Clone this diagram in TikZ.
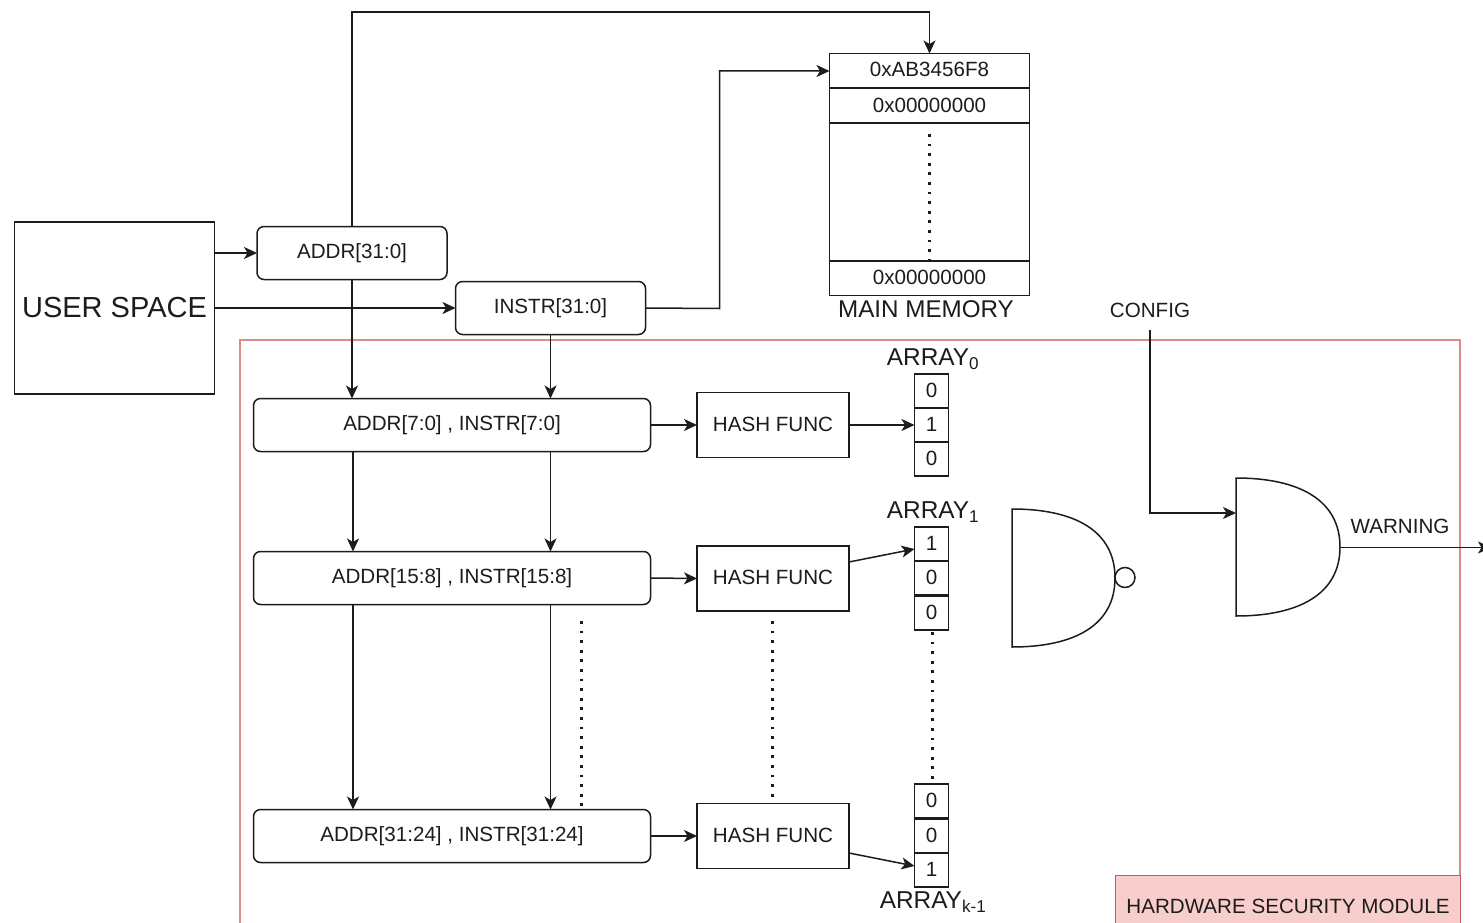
\documentclass[tikz,border=0pt]{standalone}
\usepackage{fontspec}
\setmainfont{Liberation Sans}
\usetikzlibrary{arrows.meta}
\definecolor{ink}{HTML}{1C1C1C}
\definecolor{hsmline}{HTML}{DE8A88}
\definecolor{hsmedge}{HTML}{C0605C}
\definecolor{hsmfill}{HTML}{F8CECC}
\newcommand\shiftup[2]{\raisebox{#1}{#2}}
\tikzset{
 x=1pt,y=-1pt,
 every node/.style={inner sep=0pt,outer sep=0pt},
 wire/.style={draw=ink,line width=1.5pt,-{Stealth[length=13pt,width=12pt,inset=3.5pt]}},
 plain/.style={draw=ink,line width=1.5pt},
 box/.style={draw=ink,line width=1.5pt,font=\fontsize{20.6}{24}\selectfont,text=ink,anchor=center},
 rbox/.style={box,rounded corners=7pt},
 cell/.style={box,minimum width=34pt,minimum height=34pt},
 mem/.style={box,minimum width=200pt,minimum height=35pt},
 lbl/.style={font=\fontsize{20.6}{24}\selectfont,text=ink},
 arr/.style={font=\fontsize{24.4}{28}\selectfont,text=ink},
 dots/.style={draw=ink,line width=2.8pt,dash pattern=on 2.8pt off 6.8pt},
}
\begin{document}
\begin{tikzpicture}
\useasboundingbox (0,0) rectangle (1483,923);
\fill[white] (0,0) rectangle (1483,923);
% HSM
\draw[draw=hsmline,line width=1.1pt] (240,923) -- (240,340) -- (1460,340) -- (1460,923);
\node[draw=hsmedge,fill=hsmfill,line width=1.1pt,minimum width=345pt,minimum height=52pt,anchor=north west] (hsm) at (1115.5,875.5) {};
\node[lbl] (hsmt) at (1288,906.5) {HARDWARE SECURITY MODULE};
% user
\node[box,minimum width=200pt,minimum height=172pt,font=\fontsize{29}{34}\selectfont] (user) at (114.5,308) {\shiftup{-1pt}{USER SPACE}};
\node[rbox,minimum width=190pt,minimum height=53pt] (addr) at (352,253) {\shiftup{-1pt}{ADDR[31:0]}};
\node[rbox,minimum width=190pt,minimum height=53pt] (instr) at (550.5,308) {\shiftup{-1pt}{INSTR[31:0]}};
% memory
\node[mem] (m0) at (929.5,71) {\shiftup{2.5pt}{0xAB3456F8}};
\node[mem] (m1) at (929.5,105.5) {\shiftup{1pt}{0x00000000}};
\node[box,minimum width=200pt,minimum height=138pt] (mm) at (929.5,192) {};
\node[mem] (m2) at (929.5,278) {\shiftup{1.5pt}{0x00000000}};
\node[lbl,font=\fontsize{24.2}{28}\selectfont] (mmt) at (926,309) {MAIN MEMORY};
% rows
\node[rbox,minimum width=397pt,minimum height=53pt] (r0) at (452,425) {\shiftup{-1pt}{ADDR[7:0] , INSTR[7:0]}};
\node[rbox,minimum width=397pt,minimum height=53pt] (r1) at (452,578) {\shiftup{-1pt}{ADDR[15:8] , INSTR[15:8]}};
\node[rbox,minimum width=397pt,minimum height=53pt] (r2) at (452,836) {\shiftup{1.5pt}{ADDR[31:24] , INSTR[31:24]}};
\node[box,minimum width=152pt,minimum height=65pt] (h0) at (773,425) {\shiftup{2pt}{HASH FUNC}};
\node[box,minimum width=152pt,minimum height=65pt] (h1) at (773,578.5) {\shiftup{2pt}{HASH FUNC}};
\node[box,minimum width=152pt,minimum height=65pt] (h2) at (773,836) {\shiftup{2pt}{HASH FUNC}};
% arrays
\node[cell] (a00) at (931.5,391) {\shiftup{1pt}{0}};
\node[cell] (a01) at (931.5,425) {\shiftup{1pt}{1}};
\node[cell] (a02) at (931.5,459) {\shiftup{1pt}{0}};
\node[cell] (a10) at (931.5,544) {\shiftup{1pt}{1}};
\node[cell] (a11) at (931.5,578) {\shiftup{1pt}{0}};
\node[cell] (a12) at (931.5,613) {\shiftup{1pt}{0}};
\node[cell] (a20) at (931.5,801) {\shiftup{1pt}{0}};
\node[cell] (a21) at (931.5,836) {\shiftup{1pt}{0}};
\node[cell] (a22) at (931.5,870) {\shiftup{1pt}{1}};
\node[arr] (t0) at (933,359) {ARRAY\textsubscript{0}};
\node[arr] (t1) at (933,512) {ARRAY\textsubscript{1}};
\node[arr] (t2) at (933,902) {ARRAY\textsubscript{k-1}};
% gates
\draw[plain] (1012,509) -- (1012,647) .. controls (1075,647) and (1115,625) .. (1115,578) .. controls (1115,531) and (1075,509) .. (1012,509) -- cycle;
\node[draw=ink,line width=1.5pt,circle,minimum size=20pt] (bub) at (1125,577.5) {};
\draw[plain] (1236,478) -- (1236,616) .. controls (1299,616) and (1340,594) .. (1340,547) .. controls (1340,500) and (1299,478) .. (1236,478) -- cycle;
\coordinate (and) at (1236,513);
\coordinate (andout) at (1340,547.5);
\coordinate (wend) at (1491,547.5);
\coordinate (cfgstart) at (1150,330);
\node[lbl] (cfg) at (1150,310) {CONFIG};
\node[lbl] (warn) at (1400,526) {WARNING};
% connectors
\draw[wire] (user.east |- addr) -- (addr.west);
\draw[wire] (user.east |- instr) -- (instr.west);
\draw[wire] (addr.north) -- (352,12) -| (m0.north);
\draw[wire] (instr.east) -- (719.5,308.5) |- (m0.west);
\draw[wire] (addr.south) -- (r0.north -| addr.south);
\draw[wire] (instr.south) -- (r0.north -| instr.south);
\draw[wire] (r0.south -| 353,0) -- (r1.north -| 353,0);
\draw[wire] (r0.south -| instr.south) -- (r1.north -| instr.south);
\draw[wire] (r1.south -| 353,0) -- (r2.north -| 353,0);
\draw[wire] (r1.south -| instr.south) -- (r2.north -| instr.south);
\draw[wire] (r0.east) -- (h0.west);
\draw[wire] (r1.east) -- (h1.west);
\draw[wire] (r2.east) -- (h2.west);
\draw[wire] (h0.east) -- (a01.west);
\draw[wire] (h1.east |- 0,562) -- (a10.west |- 0,549);
\draw[wire] (h2.east |- 0,853) -- (a22.west |- 0,866);
\draw[wire] (cfgstart) -- (1150,513) -- (and);
\draw[wire] (andout) -- (wend);
% dots
\draw[dots] (929.5,134) -- (929.5,260);
\draw[dots] (581.5,621) -- (581.5,806);
\draw[dots] (772.5,621) -- (772.5,803);
\draw[dots] (932.5,632) -- (932.5,785);
\end{tikzpicture}
\end{document}
